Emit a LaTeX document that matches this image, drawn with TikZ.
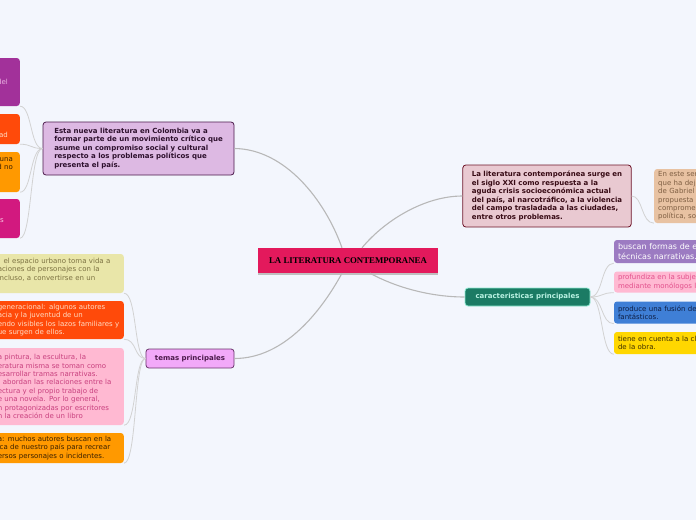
\documentclass[tikz,border=0pt]{standalone}
\usepackage{fontspec}
\setmainfont{DejaVu Sans}
\newfontfamily\titlefont{Liberation Serif}
\usepackage{tikz}
\usetikzlibrary{shadows}

\definecolor{bg}{HTML}{F3F6FD}
\definecolor{crimson}{HTML}{E3195C}
\definecolor{lila}{HTML}{DDB9E3}
\definecolor{plum}{HTML}{4B1A4B}
\definecolor{rosa}{HTML}{E9C9D1}
\definecolor{maroon}{HTML}{6E1428}
\definecolor{pine}{HTML}{1B7B64}
\definecolor{mint}{HTML}{8EEAD2}
\definecolor{orchid}{HTML}{F2A9F9}
\definecolor{tan}{HTML}{E8C2A2}
\definecolor{tantext}{HTML}{7E5E42}
\definecolor{violet}{HTML}{9C7BC2}
\definecolor{blush}{HTML}{FFB9D2}
\definecolor{blushtext}{HTML}{E2508C}
\definecolor{sky}{HTML}{3F7FD6}
\definecolor{navy}{HTML}{0E1E44}
\definecolor{sun}{HTML}{FFD700}
\definecolor{umber}{HTML}{3F3000}
\definecolor{grape}{HTML}{A2319A}
\definecolor{grapetext}{HTML}{EAB2E2}
\definecolor{flame}{HTML}{FF4A0A}
\definecolor{flametext}{HTML}{FFDCC4}
\definecolor{amber}{HTML}{FF9900}
\definecolor{ambertext}{HTML}{3A2000}
\definecolor{berry}{HTML}{D2197F}
\definecolor{berrytext}{HTML}{F8C8E2}
\definecolor{straw}{HTML}{E9E6A9}
\definecolor{strawtext}{HTML}{7C7242}
\definecolor{pinktext}{HTML}{C8407E}
\definecolor{linkgray}{HTML}{B8B8B8}
\definecolor{twiggray}{HTML}{D2D2D2}

\tikzset{
  topic/.style={draw, rounded corners=3pt, line width=0.8pt, align=left, inner xsep=9pt,
    font=\bfseries\fontsize{7}{8.5}\selectfont},
  leaf/.style={rounded corners=3pt, align=left, inner xsep=4pt, inner ysep=0pt, text width=120pt,
    font=\fontsize{7}{8.4}\selectfont},
  link/.style={draw=linkgray, line width=1.1pt},
  twig/.style={draw=twiggray, line width=0.8pt},
}

\begin{document}
\begin{tikzpicture}[x=1pt, y=-1pt, node distance=30.5pt]
  \useasboundingbox (0,0) rectangle (696,520);
  \clip (0,0) rectangle (696,520);
  \fill[bg] (0,0) rectangle (696,520);

  % Nodes
  \node[fill=crimson, minimum width=180, minimum height=25,
    font=\titlefont\bfseries\fontsize{8.8}{10}\selectfont,
    drop shadow={shadow xshift=0pt, shadow yshift=-2pt, fill=black!25, opacity=1}] (L) at (348,260.5) {LA LITERATURA CONTEMPORANEA};
  \node[topic, fill=lila, draw=plum, text=plum!60!black, minimum width=191, minimum height=53] (M) at (138.5,148.5)
    {Esta nueva literatura en Colombia va a\\formar parte de un movimiento crítico que\\asume un compromiso social y cultural\\respecto a los problemas políticos que\\presenta el país.};
  \node[topic, fill=rosa, draw=maroon, text=maroon!50!black, minimum width=166, minimum height=62] (S) at (547,196)
    {La literatura contemporánea surge en\\el siglo XXI como respuesta a la\\aguda crisis socioeconómica actual\\del país, al narcotráfico, a la violencia\\del campo trasladada a las ciudades,\\entre otros problemas.};
  \node[topic, fill=pine, draw=mint, text=mint!60!white, minimum width=125, minimum height=18] (K) at (527.5,297) {caracteristicas principales};
  \node[topic, fill=orchid, draw=plum!80!orchid, text=plum, minimum width=86, minimum height=19] (T) at (190,358.5) {temas principales};

  % Leaves on the right
  \node[leaf, anchor=west, fill=tan, text=tantext, minimum height=54] (E) at (654,196)
    {En este ser\\que ha dej\\de Gabriel\\propuesta\\comprome\\política, so};
  \node[leaf, fill=violet, text=white, minimum height=23, font=\fontsize{8}{10}\selectfont] (k1) at (678,251.5)
    {buscan formas de e\\técnicas narrativas.};
  \node[leaf, fill=blush, text=blushtext, minimum height=21, below of=k1] (k2)
    {profundiza en la subje\\mediante monólogos l};
  \node[leaf, fill=sky, text=navy, minimum height=22, below of=k2] (k3)
    {produce una fusión de\\fantásticos.};
  \node[leaf, fill=sun, text=umber, minimum height=22, below of=k3] (k4)
    {tiene en cuenta a la cl\\de la obra.};

  % Leaves on the left, top
  \node[leaf, anchor=east, align=right, text width=100, inner xsep=12, minimum height=48,
    fill=grape, text=grapetext] (m1) at (20,82) {del};
  \node[leaf, anchor=east, align=right, text width=100, inner xsep=12, minimum height=30,
    fill=flame, text=flametext] (m2) at (20,129) {\mbox{}\\\mbox{}\\ad};
  \node[leaf, anchor=east, align=right, text width=100, inner xsep=7, minimum height=40,
    fill=amber, text=ambertext] (m3) at (20,172) {una\\d no\\\mbox{}\\\mbox{}};
  \node[leaf, anchor=east, align=right, text width=100, inner xsep=16, minimum height=39,
    fill=berry, text=berrytext] (m4) at (20,218.5) {\mbox{}\\s};

  % Leaves on the left, bottom
  \node[leaf, anchor=east, text width=124, inner xsep=2, minimum height=39,
    fill=straw, text=strawtext] (t1) at (124,273.5)
    {: el espacio urbano toma vida a\\aciones de personajes con la\\incluso, a convertirse en un\\\mbox{}};
  \node[leaf, anchor=east, text width=124, inner xsep=2, minimum height=38,
    fill=flame, text=flametext] (t2) at (124,320)
    {generacional: algunos autores\\acia y la juventud de un\\endo visibles los lazos familiares y\\ue surgen de ellos.};
  \node[leaf, anchor=east, text width=124, inner xsep=2, minimum height=77,
    fill=blush, text=pinktext] (t3) at (124,386.5)
    {a pintura, la escultura, la\\eratura misma se toman como\\esarrollar tramas narrativas.\\\hspace*{5pt}abordan las relaciones entre la\\ectura y el propio trabajo de\\e una novela. Por lo general,\\n protagonizadas por escritores\\n la creación de un libro};
  \node[leaf, anchor=east, text width=124, inner xsep=2, minimum height=30,
    fill=amber, text=ambertext] (t4) at (124,448)
    {a: muchos autores buscan en la\\ica de nuestro país para recrear\\ersos personajes o incidentes.};

  % Links
  \draw[link] ([xshift=-6]L.north) .. controls (325,200) and (285,149) .. (M.east);
  \draw[link] ([xshift=14]L.north) .. controls (385,220) and (425,196) .. (S.west);
  \draw[link] ([xshift=-6]L.south) .. controls (322,310) and (285,358.5) .. (T.east);
  \draw[link] ([xshift=22]L.south) .. controls (395,287) and (430,297) .. (K.west);

  % Twigs
  \foreach \m in {m1,m2,m3,m4}
    \draw[twig] (M.west) .. controls (30,148.5) and ([xshift=12]\m.south east) .. (\m.south east);
  \foreach \t in {t1,t2,t3,t4}
    \draw[twig] (T.west) .. controls (134,358.5) and ([xshift=13]\t.south east) .. (\t.south east);
  \foreach \k in {k1,k2,k3,k4}
    \draw[twig] (K.east) .. controls (603,297) and ([xshift=-13]\k.south west) .. (\k.south west);
  \draw[twig] (S.east) .. controls (643,196) and (641,223) .. (E.south west);
\end{tikzpicture}
\end{document}
